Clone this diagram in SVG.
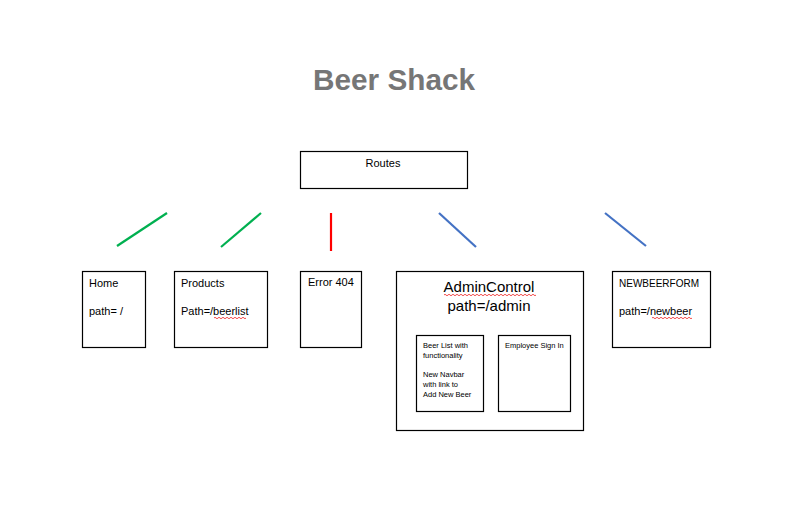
<svg xmlns="http://www.w3.org/2000/svg" width="790" height="531" viewBox="0 0 790 531">
<style>
.box{fill:#fff;stroke:#000;stroke-width:1.2}
.t{font-family:"Liberation Sans",Arial,sans-serif;font-size:11px;fill:#000}
.s{font-family:"Liberation Sans",Arial,sans-serif;font-size:7.5px;fill:#000}
.big{font-family:"Liberation Sans",Arial,sans-serif;font-size:15px;fill:#000}
.sq{fill:none;stroke:#e00;stroke-width:0.7}
</style>
<rect width="790" height="531" fill="#fff"/>
<text x="394" y="90" text-anchor="middle" font-family="Liberation Sans,Arial,sans-serif" font-weight="bold" font-size="30" fill="#767676" textLength="162" lengthAdjust="spacingAndGlyphs">Beer Shack</text>
<g id="connectors" stroke-width="2.2" fill="none">
<line x1="117" y1="246" x2="167" y2="213" stroke="#00B050"/>
<line x1="221" y1="247" x2="261" y2="213" stroke="#00B050"/>
<line x1="331" y1="213" x2="331" y2="251" stroke="#FF0000"/>
<line x1="439" y1="213" x2="476" y2="247" stroke="#4472C4"/>
<line x1="605" y1="213" x2="646" y2="246" stroke="#4472C4"/>
</g>
<g id="routes">
<rect class="box" x="300.5" y="151.5" width="167" height="37"/>
<text class="t" x="383" y="167" text-anchor="middle">Routes</text>
</g>
<g id="home">
<rect class="box" x="82.5" y="271.5" width="63" height="76"/>
<text class="t" x="89" y="287">Home</text>
<text class="t" x="89" y="315">path= /</text>
</g>
<g id="products">
<rect class="box" x="174.5" y="271.5" width="93" height="76"/>
<text class="t" x="181" y="287">Products</text>
<text class="t" x="181" y="315">Path=/beerlist</text>
<path class="sq" d="M214 318 q1 -1.5 2 0 t2 0 t2 0 t2 0 t2 0 t2 0 t2 0 t2 0 t2 0 t2 0 t2 0 t2 0 t2 0 t2 0 t2 0 t2 0"/>
</g>
<g id="error404">
<rect class="box" x="300.5" y="271.5" width="61" height="76"/>
<text class="t" x="308" y="286">Error 404</text>
</g>
<g id="admincontrol">
<rect class="box" x="396.5" y="271.5" width="187" height="159"/>
<text class="big" x="489" y="292" text-anchor="middle">AdminControl</text>
<path class="sq" d="M444 295 q1 -1.5 2 0 t2 0 t2 0 t2 0 t2 0 t2 0 t2 0 t2 0 t2 0 t2 0 t2 0 t2 0 t2 0 t2 0 t2 0 t2 0 t2 0 t2 0 t2 0 t2 0 t2 0 t2 0 t2 0 t2 0 t2 0 t2 0 t2 0 t2 0 t2 0 t2 0 t2 0 t2 0 t2 0 t2 0 t2 0 t2 0 t2 0 t2 0 t2 0 t2 0 t2 0 t2 0 t2 0 t2 0 t2 0 t2 0"/>
<text class="big" x="489" y="311" text-anchor="middle">path=/admin</text>
<g id="beerlist">
<rect class="box" x="416.5" y="335.5" width="67" height="76"/>
<text class="s" x="423" y="348">Beer List with</text>
<text class="s" x="423" y="358">functionality</text>
<text class="s" x="423" y="377">New Navbar</text>
<text class="s" x="423" y="387">with link to</text>
<text class="s" x="423" y="397">Add New Beer</text>
</g>
<g id="employeesignin">
<rect class="box" x="498.5" y="335.5" width="72" height="76"/>
<text class="s" x="505" y="348">Employee Sign In</text>
</g>
</g>
<g id="newbeerform">
<rect class="box" x="612.5" y="271.5" width="98" height="76"/>
<text class="t" x="619" y="287" textLength="80" lengthAdjust="spacingAndGlyphs">NEWBEERFORM</text>
<text class="t" x="619" y="315">path=/newbeer</text>
<path class="sq" d="M652 318 q1 -1.5 2 0 t2 0 t2 0 t2 0 t2 0 t2 0 t2 0 t2 0 t2 0 t2 0 t2 0 t2 0 t2 0 t2 0 t2 0 t2 0 t2 0 t2 0 t2 0 t2 0"/>
</g>
</svg>
